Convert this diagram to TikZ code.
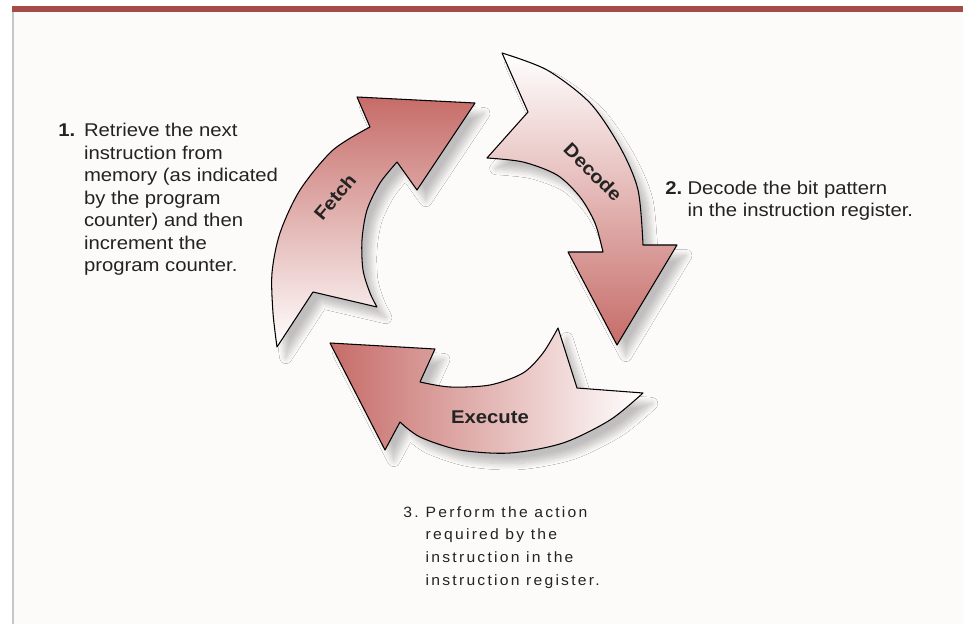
\documentclass[tikz,border=0pt]{standalone}
\usepackage{fontspec}
\setmainfont{Liberation Sans}[FakeStretch=1.1]
\newfontfamily\spacedfont{Liberation Sans}[LetterSpace=15,FakeStretch=1.05]
\usepackage{tikz}
\usetikzlibrary{shadows.blur}

\definecolor{arrowred}{RGB}{198,108,104}
\definecolor{arrowpink}{RGB}{234,200,198}
\definecolor{toprule}{RGB}{166,76,70}
\definecolor{paper}{RGB}{253,250,250}
\definecolor{inkgrey}{RGB}{35,35,35}

\begin{document}
\begin{tikzpicture}[x=0.02cm,y=-0.02cm,
    freccia/.style={draw=black,line width=0.6pt,line join=round,
      blur shadow={shadow xshift=5pt,shadow yshift=-6pt,shadow blur radius=3.5pt,
        shadow blur steps=12,shadow opacity=24}},
    etichetta/.style={font=\fontsize{10.5}{12}\selectfont\bfseries,text=inkgrey,inner sep=0pt},
    testo/.style={font=\fontsize{10.5}{12.8}\selectfont,text=inkgrey,inner sep=0pt,anchor=base west}]
    \useasboundingbox (0,0) rectangle (963,624);

    % sfondo e bordi
    \fill[paper] (12,12) rectangle (963,624);
    \draw[toprule,line width=3.4pt] (12,9) -- (963,9);
    \draw[black!22,line width=0.6pt] (13,12) -- (13,624);

    % freccia fetch
    \shade[freccia,top color=arrowred,middle color=arrowpink,bottom color=white]
      (277,347) -- (313,292) -- (377,307)
      -- plot[smooth] coordinates {(377,307) (370,293) (363,270) (362,240) (367,210) (380,183) (397,162)}
      -- (417,190) -- (475,103) -- (357,97) -- (370,127)
      -- plot[smooth] coordinates {(370,127) (333,150) (300,190) (280,233) (272,273) (273,313) (277,347)}
      -- cycle;

    % freccia decode
    \shade[freccia,top color=white,middle color=arrowpink,bottom color=arrowred]
      (502,53)
      -- plot[smooth] coordinates {(502,53) (547,70) (590,103) (620,147) (638,190) (643,245)}
      -- (677,245) -- (617,345) -- (568,252) -- (603,252)
      -- plot[smooth] coordinates {(603,252) (595,223) (580,197) (557,175) (523,162) (487,158)}
      -- (528,112) -- cycle;

    % freccia execute
    \shade[freccia,left color=arrowred,middle color=arrowpink,right color=white]
      (558,328) -- (577,388) -- (643,393)
      -- plot[smooth] coordinates {(643,393) (610,420) (563,443) (510,453) (460,450) (420,437) (400,422)}
      -- (385,450) -- (330,343) -- (435,349) -- (420,382)
      -- plot[smooth] coordinates {(420,382) (450,387) (490,385) (523,373) (543,353) (558,328)}
      -- cycle;

    % scritte sulle frecce
    \node[etichetta,rotate=50] (fetch) at (335,197) {Fetch};
    \node[etichetta,rotate=-45] (decode) at (593,172) {Decode};
    \node[etichetta] (execute) at (490,417) {Execute};

    % testi
    \node[testo] (passo1) at (58,137) {%
      \begin{tabular}[t]{@{}l@{\hspace{5pt}}l@{}}
        \textbf{1.} & Retrieve the next\\
        & instruction from\\
        & memory (as indicated\\
        & by the program\\
        & counter) and then\\
        & increment the\\
        & program counter.
      \end{tabular}};
    \node[testo,font=\fontsize{10.5}{12.5}\selectfont] (passo2) at (665,195) {%
      \begin{tabular}[t]{@{}l@{\hspace{3pt}}l@{}}
        \textbf{2.} & Decode the bit pattern\\
        & in the instruction register.
      \end{tabular}};
    \node[testo,font=\fontsize{8.5}{13}\selectfont\spacedfont] (passo3) at (403,517) {%
      \begin{tabular}[t]{@{}l@{\hspace{4pt}}l@{}}
        3. & Perform the action\\
        & required by the\\
        & instruction in the\\
        & instruction register.
      \end{tabular}};
\end{tikzpicture}
\end{document}
